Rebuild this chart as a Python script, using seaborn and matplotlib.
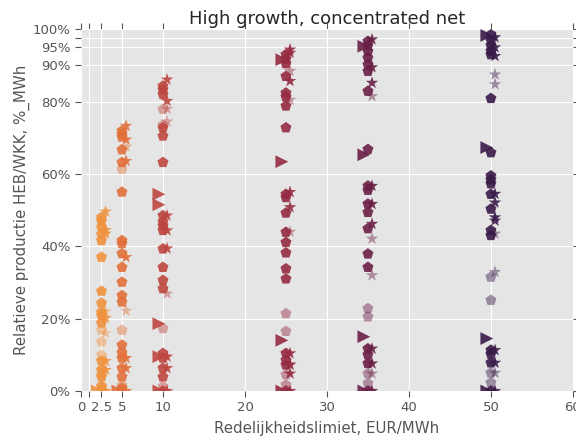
import pandas as pd
import matplotlib
matplotlib.use("Agg")
import matplotlib.pyplot as plt
import seaborn as sns

# redelijkheidslimiet (EUR/MWh) per groep
limits = [2.5, 5, 10, 25, 35, 50]
colors = ['#F0923E', '#E2703A', '#BE4640', '#952B42', '#6A2046', '#3A1B49']

# relatieve productie (%), per limiet en markersoort
pent = {
    2.5: [48, 47, 45.2, 43.3, 41.6, 37, 27.6, 24.3, 21.8, 20.9, 18.8, 8.3, 5.8, 3.9, 1.2, 0],
    5: [71.9, 71, 70.2, 66.7, 63.2, 55, 41.6, 40.8, 38, 34.2, 30.1, 26.4, 24.6, 12.7, 10.6, 9.1, 6.3, 3.9, 0.8, 0],
    10: [84.3, 83.3, 82, 72.8, 70.5, 63.2, 48.5, 46.8, 45.7, 44.4, 39.3, 34.2, 30.6, 28.3, 10.4, 9.1, 6.3, 3.9, 0],
    25: [93, 91.8, 90.5, 87, 82.4, 81.3, 78.8, 72.8, 54.4, 53.5, 49.2, 43.9, 41.1, 38.2, 33.8, 31, 10.4, 8.5, 7.2, 0],
    35: [96.7, 95.5, 93.9, 92.1, 90.2, 88.4, 82.9, 66.8, 56.7, 55.5, 51.7, 49.4, 44.9, 37.9, 34.2, 11.7, 10, 7.6, 0],
    50: [98.5, 97, 95.5, 94, 93, 80.9, 65.9, 59.5, 58.4, 57.3, 54.4, 50.3, 44.4, 43, 11.3, 10.2, 7.8, 0],
}
pent_light = {
    2.5: [16.8, 13.6, 9.9, 4.5, 1.5],
    5: [61.3, 16.8, 1.5],
    10: [77.9, 73.5, 17.3, 1.2],
    25: [21.4, 16.5, 4.5, 1.7],
    35: [22.8, 20.5, 4.8, 2.1],
    50: [31.5, 25.1, 5, 2.3],
}
star = {
    2.5: [49.6, 44.5, 43.5, 20.2, 8.3, 5.8, 0],
    5: [73.3, 69.5, 63.6, 37, 9.1, 6.3, 0],
    10: [86.1, 80.2, 48.5, 44.4, 39.4, 9.5, 6.3, 0],
    25: [94.4, 93.5, 85.7, 55, 50.8, 10.4, 7.2, 4.8, 0],
    35: [97.2, 89.5, 85.2, 56.7, 51.7, 46.2, 11.7, 7.6, 0],
    50: [97.8, 95, 92.6, 54.5, 52.1, 48, 47.1, 11.3, 7.8, 0],
}
star_light = {
    2.5: [22.0, 16.0],
    5: [67.5, 22.2],
    10: [78, 74.5, 26.9],
    25: [88.5, 80.5, 44, 7.5],
    35: [81.5, 42.1, 32, 4.8],
    50: [87.5, 84.8, 43.5, 32.9, 5],
}
tri = {
    2.5: [0],
    5: [0],
    10: [54.4, 51.5, 18.6, 9.5, 0],
    25: [91.6, 63.4, 14, 0],
    35: [95.3, 65.3, 15, 0],
    50: [98.3, 67.3, 14.5, 0],
}

yticks = [0, 20, 40, 60, 80, 90, 95, 97.5, 100]
ytick_labels = ['0%', '20%', '40%', '60%', '80%', '90%', '95%', '', '100%']
xticks = [0, 1, 2.5, 5, 10, 20, 30, 40, 50, 60]
xtick_labels = ['0', '', '2.5', '5', '10', '20', '30', '40', '50', '60']

offsets = {'tri': -0.5, 'pent': 0.0, 'star': 0.5}

rows = []
for kind, shade, table in [('tri', 'dark', tri), ('pent', 'dark', pent), ('pent', 'light', pent_light),
                           ('star', 'dark', star), ('star', 'light', star_light)]:
    for lim, vals in table.items():
        for v in vals:
            rows.append({'limit': lim, 'x': lim + offsets[kind], 'share': v, 'kind': kind, 'shade': shade})
df = pd.DataFrame(rows)

sns.set_style("darkgrid", {
    'axes.facecolor': '#E5E5E5',
    'grid.color': 'white',
    'xtick.bottom': True, 'xtick.top': True,
    'ytick.left': True, 'ytick.right': True,
    'xtick.color': '#555555', 'ytick.color': '#555555',
    'axes.labelcolor': '#555555',
})
plt.rcParams['font.family'] = ['DejaVu Sans']
plt.rcParams['xtick.direction'] = 'out'
plt.rcParams['ytick.direction'] = 'out'

fig = plt.figure(figsize=(5.76, 4.4), dpi=100)
ax = fig.add_axes([0.1406, 0.1114, 0.854, 0.822])

palette = dict(zip(limits, colors))
markers = {'tri': '>', 'pent': 'p', 'star': '*'}
sizes = {'tri': 85, 'pent': 70, 'star': 90}

for shade, a in [('dark', 0.9), ('light', 0.45)]:
    sub = df[df['shade'] == shade]
    sns.scatterplot(data=sub, x='x', y='share', hue='limit', palette=palette,
                    style='kind', markers=markers, size='kind', sizes=sizes,
                    alpha=a, linewidth=0, legend=False, ax=ax)

ax.set_xlim(0, 60)
ax.set_ylim(0, 100)
ax.set_xticks(xticks)
ax.set_xticklabels(xtick_labels)
ax.set_yticks(yticks)
ax.set_yticklabels(ytick_labels)
ax.tick_params(axis='both', labelsize=9.5, length=4, width=0.8, color='#555555')
for s in ax.spines.values():
    s.set_visible(False)

ax.set_xlabel('Redelijkheidslimiet, EUR/MWh', fontsize=10.8, labelpad=5)
ax.set_ylabel('Relatieve productie HEB/WKK, %_MWh', fontsize=10.8, labelpad=2)
ax.set_title('High growth, concentrated net', fontsize=13, pad=4)

fig.savefig('out.png', dpi=100)
